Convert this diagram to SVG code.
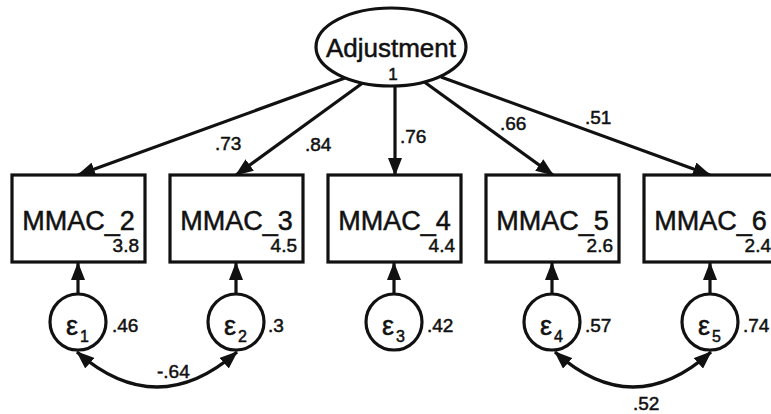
<svg xmlns="http://www.w3.org/2000/svg" width="771" height="414" viewBox="0 0 771 414">
<style>
.shape{fill:#fff;stroke:#111;stroke-width:3.2}
.line{fill:none;stroke:#111;stroke-width:3.2}
.t{font-family:"Liberation Sans",Arial,sans-serif;fill:#111;stroke:#111;stroke-width:0.5}
.big{font-size:27px;text-anchor:middle}
.sub{font-size:19px;text-anchor:end}
.val{font-size:19px}
.eps{font-size:27px}
.idx{font-size:16px}
</style>
<defs>
<marker id="ah" markerUnits="userSpaceOnUse" markerWidth="18" markerHeight="14" viewBox="0 0 18 14" refX="17" refY="7" orient="auto-start-reverse">
<path d="M0,0 L18,7 L0,14 z" fill="#111"/>
</marker>
</defs>
<rect width="771" height="414" fill="#fff"/>
<g id="connectors">
<line class="line" x1="345" y1="78" x2="78" y2="175" marker-end="url(#ah)"/>
<line class="line" x1="364" y1="82" x2="236" y2="175" marker-end="url(#ah)"/>
<line class="line" x1="395" y1="86" x2="395" y2="175" marker-end="url(#ah)"/>
<line class="line" x1="423" y1="81" x2="553" y2="175" marker-end="url(#ah)"/>
<line class="line" x1="441" y1="77" x2="710" y2="175" marker-end="url(#ah)"/>
<line class="line" x1="78" y1="294" x2="78" y2="263" marker-end="url(#ah)"/>
<line class="line" x1="236" y1="294" x2="236" y2="263" marker-end="url(#ah)"/>
<line class="line" x1="394" y1="294" x2="394" y2="263" marker-end="url(#ah)"/>
<line class="line" x1="552" y1="294" x2="552" y2="263" marker-end="url(#ah)"/>
<line class="line" x1="710" y1="294" x2="710" y2="263" marker-end="url(#ah)"/>
<path class="line" d="M77,352 Q157,422 237,352" marker-start="url(#ah)" marker-end="url(#ah)"/>
<path class="line" d="M555,352 Q633,422 711,352" marker-start="url(#ah)" marker-end="url(#ah)"/>
<text class="t val" x="215" y="150">.73</text>
<text class="t val" x="305" y="151">.84</text>
<text class="t val" x="400" y="143">.76</text>
<text class="t val" x="500" y="130">.66</text>
<text class="t val" x="585" y="124">.51</text>
<text class="t val" x="157" y="378">-.64</text>
<text class="t val" x="633" y="410">.52</text>
</g>
<g id="adjustment">
<ellipse class="shape" cx="391" cy="47" rx="75" ry="39"/>
<text class="t" x="391" y="57" font-size="26" text-anchor="middle">Adjustment</text>
<text class="t" x="393" y="80" font-size="17" text-anchor="middle">1</text>
</g>
<g id="mmac2">
<rect class="shape" x="12" y="175" width="133" height="87"/>
<text class="t big" x="78.5" y="230">MMAC_2</text>
<text class="t sub" x="139" y="252">3.8</text>
</g>
<g id="mmac3">
<rect class="shape" x="170" y="175" width="133" height="87"/>
<text class="t big" x="236.5" y="230">MMAC_3</text>
<text class="t sub" x="297" y="252">4.5</text>
</g>
<g id="mmac4">
<rect class="shape" x="328" y="175" width="133" height="87"/>
<text class="t big" x="394.5" y="230">MMAC_4</text>
<text class="t sub" x="455" y="252">4.4</text>
</g>
<g id="mmac5">
<rect class="shape" x="486" y="175" width="133" height="87"/>
<text class="t big" x="552.5" y="230">MMAC_5</text>
<text class="t sub" x="613" y="252">2.6</text>
</g>
<g id="mmac6">
<rect class="shape" x="644" y="175" width="133" height="87"/>
<text class="t big" x="710.5" y="230">MMAC_6</text>
<text class="t sub" x="771" y="252">2.4</text>
</g>
<g id="e1">
<circle class="shape" cx="78" cy="322" r="28"/>
<text class="t eps" x="66" y="335">ε</text><text class="t idx" x="80" y="342">1</text>
<text class="t val" x="112" y="332">.46</text>
</g>
<g id="e2">
<circle class="shape" cx="236" cy="322" r="28"/>
<text class="t eps" x="224" y="335">ε</text><text class="t idx" x="238" y="342">2</text>
<text class="t val" x="268" y="332">.3</text>
</g>
<g id="e3">
<circle class="shape" cx="394" cy="322" r="28"/>
<text class="t eps" x="382" y="335">ε</text><text class="t idx" x="396" y="342">3</text>
<text class="t val" x="427" y="332">.42</text>
</g>
<g id="e4">
<circle class="shape" cx="552" cy="322" r="28"/>
<text class="t eps" x="540" y="335">ε</text><text class="t idx" x="554" y="342">4</text>
<text class="t val" x="585" y="332">.57</text>
</g>
<g id="e5">
<circle class="shape" cx="710" cy="322" r="28"/>
<text class="t eps" x="698" y="335">ε</text><text class="t idx" x="712" y="342">5</text>
<text class="t val" x="743" y="332">.74</text>
</g>
</svg>
